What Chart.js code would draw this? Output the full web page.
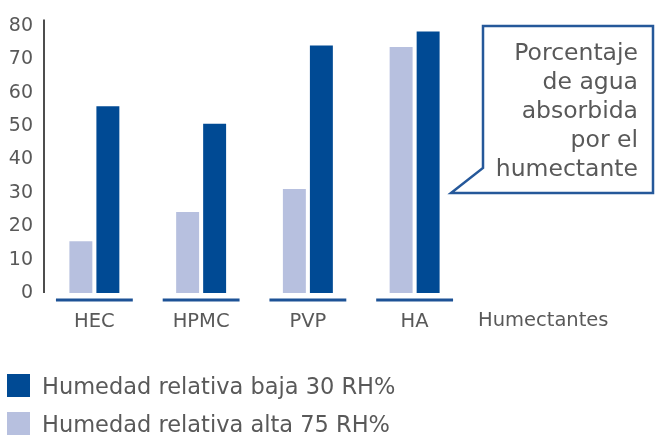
<!DOCTYPE html>
<html>
<head>
<meta charset="utf-8">
<script src="https://cdn.jsdelivr.net/npm/chart.js@4.4.1/dist/chart.umd.min.js"></script>
<style>
  html, body { margin: 0; padding: 0; background: #fff; }
  #wrap { position: relative; width: 655px; height: 435px; }
  #chart { display: block; }
  #legend { position: absolute; left: 7px; top: 374px; font-family: "DejaVu Sans"; font-size: 22.5px; color: #595959; }
  .item { display: flex; align-items: center; height: 23px; margin-bottom: 15px; white-space: nowrap; }
  .box { width: 23px; height: 23px; margin-right: 12px; flex: none; }
</style>
</head>
<body>
<div id="wrap">
  <canvas id="chart" width="655" height="435"></canvas>
  <div id="legend"></div>
</div>
<script>
const categories = ["HEC", "HPMC", "PVP", "HA"];
const highHumidity = [15.5, 24.3, 31.2, 73.7];   // alta 75 RH%
const lowHumidity = [56.0, 50.7, 74.2, 78.4];    // baja 30 RH%
const seriesNames = ["Humedad relativa alta 75 RH%", "Humedad relativa baja 30 RH%"];
const yTicks = [0, 10, 20, 30, 40, 50, 60, 70, 80];
const xTitle = "Humectantes";
const calloutLines = ["Porcentaje", "de agua", "absorbida", "por el", "humectante"];

const darkBlue = "#004a94";
const lightBlue = "#b7c0df";
const textGray = "#595959";
const font = "DejaVu Sans";

// underlines, axis title and the speech-bubble note
const extras = {
  id: "extras",
  afterDraw(chart) {
    const ctx = chart.ctx;
    const xs = chart.scales.x;
    const area = chart.chartArea;
    const w = (area.right - area.left) / categories.length;
    ctx.save();

    // y axis line
    ctx.strokeStyle = "#4d4d4d";
    ctx.lineWidth = 2;
    ctx.beginPath();
    ctx.moveTo(area.left + 3, area.top);
    ctx.lineTo(area.left + 3, area.bottom);
    ctx.stroke();

    // underline under each group
    ctx.strokeStyle = "#1d5296";
    ctx.lineWidth = 3;
    categories.forEach(function (c, i) {
      const cx = xs.getPixelForValue(i);
      ctx.beginPath();
      ctx.moveTo(cx - w * 0.36, area.bottom + 7);
      ctx.lineTo(cx + w * 0.36, area.bottom + 7);
      ctx.stroke();
    });

    // axis title
    ctx.fillStyle = textGray;
    ctx.font = "19.5px '" + font + "'";
    ctx.textAlign = "left";
    ctx.textBaseline = "middle";
    ctx.fillText(xTitle, area.right + 10, area.bottom + 28);

    // callout
    ctx.beginPath();
    ctx.moveTo(483, 26);
    ctx.lineTo(653, 26);
    ctx.lineTo(653, 193);
    ctx.lineTo(451, 193);
    ctx.lineTo(483, 168);
    ctx.closePath();
    ctx.fillStyle = "#fff";
    ctx.fill();
    ctx.strokeStyle = "#25589a";
    ctx.lineWidth = 2.5;
    ctx.stroke();

    ctx.fillStyle = textGray;
    ctx.font = "23.5px '" + font + "'";
    ctx.textAlign = "right";
    ctx.textBaseline = "alphabetic";
    calloutLines.forEach(function (line, i) {
      ctx.fillText(line, 638, 60 + i * 29);
    });
    ctx.restore();
  }
};

const ctx = document.getElementById("chart").getContext("2d");
const myChart = new Chart(ctx, {
  type: "bar",
  data: {
    labels: categories,
    datasets: [{
      label: seriesNames[0],
      data: highHumidity,
      backgroundColor: lightBlue
    }, {
      label: seriesNames[1],
      data: lowHumidity,
      backgroundColor: darkBlue
    }]
  },
  options: {
    responsive: false,
    animation: false,
    categoryPercentage: 0.506,
    barPercentage: 0.85,
    layout: { padding: { top: 13, right: 187, bottom: 100, left: 0 } },
    plugins: {
      legend: { display: false },
      tooltip: { enabled: false }
    },
    scales: {
      x: {
        grid: { display: false, drawTicks: false },
        border: { display: false },
        ticks: {
          color: textGray,
          font: { family: font, size: 19.5 },
          padding: 17
        },
        afterFit: function (s) { s.height = 42; }
      },
      y: {
        min: 0,
        max: 82,
        grid: { display: false, drawTicks: false },
        border: { display: false },
        afterBuildTicks: function (s) {
          s.ticks = yTicks.map(function (v) { return { value: v }; });
        },
        ticks: {
          color: textGray,
          font: { family: font, size: 19 },
          padding: 8
        },
        afterFit: function (s) { s.width = 41; }
      }
    }
  },
  plugins: [extras]
});

// legend: dark series first as in the original
const legend = document.getElementById("legend");
[[seriesNames[1], darkBlue], [seriesNames[0], lightBlue]].forEach(function (it) {
  const row = document.createElement("div");
  row.className = "item";
  row.innerHTML = '<span class="box" style="background:' + it[1] + '"></span><span>' + it[0] + '</span>';
  legend.appendChild(row);
});
</script>
</body>
</html>
